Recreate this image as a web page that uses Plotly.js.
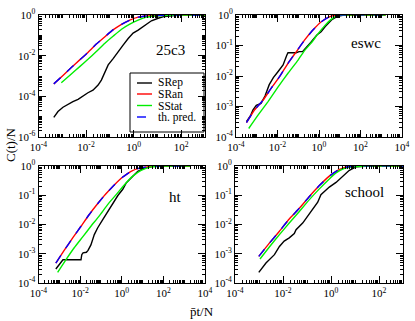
<!DOCTYPE html>
<html>
<head>
<meta charset="utf-8">
<script src="https://cdn.plot.ly/plotly-3.0.1.min.js"></script>
<style>
  html, body { margin: 0; padding: 0; background: #fff; }
  #myDiv { width: 415px; height: 321px; }
</style>
</head>
<body>
<div id="myDiv"></div>
<script>
// 25c3
let rep1X = [4.4e-4, 6.6e-4, 1.07e-3, 1.7e-3, 2.8e-3, 4.6e-3, 7.4e-3, 1.2e-2, 1.95e-2, 3.2e-2, 4.4e-2, 6.2e-2, 8.5e-2, 0.14, 0.22, 0.36, 0.59, 0.95, 1.55, 3.0, 5.6, 10.7, 20, 50, 100, 1000];
let rep1Y = [9.3e-6, 1.8e-5, 2.9e-5, 4.1e-5, 5.5e-5, 7.1e-5, 1.05e-4, 1.5e-4, 2.0e-4, 3.6e-4, 6.3e-4, 1.6e-3, 3.5e-3, 7.4e-3, 1.6e-2, 3.3e-2, 7.0e-2, 0.13, 0.18, 0.32, 0.52, 0.69, 0.85, 0.95, 1, 1];
let ran1X = [4.4e-4, 1.07e-3, 2.4e-3, 5.4e-3, 1.2e-2, 2.7e-2, 6.2e-2, 0.14, 0.31, 0.69, 1.55, 3.5, 7.8, 30, 1000];
let ran1Y = [4.1e-4, 1.07e-3, 2.6e-3, 6.2e-3, 1.45e-2, 3.7e-2, 8.6e-2, 0.19, 0.35, 0.56, 0.78, 0.89, 0.95, 1, 1];
let stat1X = [9.1e-4, 2.4e-3, 5.4e-3, 1.2e-2, 2.7e-2, 6.2e-2, 0.14, 0.31, 0.69, 1.55, 3.5, 7.8, 17, 100, 1000];
let stat1Y = [4.7e-4, 1.26e-3, 2.9e-3, 6.6e-3, 1.6e-2, 4.1e-2, 9.3e-2, 0.2, 0.36, 0.56, 0.78, 0.89, 0.95, 1, 1];
let th1X = [4.4e-4, 1.07e-3, 2.4e-3, 5.4e-3, 1.2e-2, 2.7e-2, 6.2e-2, 0.14, 0.31, 0.69, 1.55, 3.5, 7.8, 30, 1000];
let th1Y = [4.1e-4, 1.07e-3, 2.6e-3, 6.2e-3, 1.45e-2, 3.7e-2, 8.6e-2, 0.19, 0.35, 0.56, 0.78, 0.89, 0.95, 1, 1];

// eswc
let rep2X = [3.2e-4, 5.0e-4, 6.6e-4, 9.5e-4, 1.6e-3, 2.5e-3, 4.0e-3, 6.3e-3, 1.05e-2, 1.86e-2, 2.8e-2, 3.2e-2, 7.9e-2, 0.11, 0.16, 0.2, 0.4, 0.79, 1.26, 2.0, 4.0, 7.9, 16, 1600];
let rep2Y = [3.2e-4, 5.0e-4, 7.8e-4, 1.1e-3, 1.26e-3, 2.2e-3, 5.2e-3, 8.9e-3, 1.38e-2, 2.3e-2, 4.8e-2, 5.8e-2, 5.8e-2, 6.3e-2, 6.3e-2, 7.6e-2, 0.126, 0.22, 0.28, 0.42, 0.69, 0.91, 1, 1];
let ran2X = [3.2e-4, 7.9e-4, 2.0e-3, 5.0e-3, 1.26e-2, 3.2e-2, 8.1e-2, 0.2, 0.51, 1.29, 3.3, 8.3, 1600];
let ran2Y = [2.95e-4, 7.8e-4, 1.6e-3, 4.0e-3, 9.5e-3, 2.6e-2, 6.3e-2, 0.15, 0.32, 0.6, 0.89, 1, 1];
let stat2X = [4.1e-4, 1.15e-3, 3.5e-3, 1.05e-2, 3.2e-2, 9.8e-2, 0.2, 0.43, 0.89, 1.86, 3.9, 8.3, 1600];
let stat2Y = [1.9e-4, 5.2e-4, 1.45e-3, 4.3e-3, 1.23e-2, 3.3e-2, 6.8e-2, 0.123, 0.24, 0.44, 0.72, 0.98, 1];
let th2X = [3.2e-4, 7.9e-4, 2.0e-3, 5.0e-3, 1.26e-2, 3.2e-2, 8.1e-2, 0.2, 0.51, 1.29, 3.3, 8.3, 1600];
let th2Y = [2.95e-4, 7.8e-4, 1.6e-3, 4.0e-3, 9.5e-3, 2.6e-2, 6.3e-2, 0.15, 0.32, 0.6, 0.89, 1, 1];

// ht
let rep3X = [6.8e-4, 1.5e-3, 1.1e-2, 1.2e-2, 1.38e-2, 2.0e-2, 2.4e-2, 3.3e-2, 4.8e-2, 6.9e-2, 0.12, 0.21, 0.37, 0.65, 1.12, 1.62, 3.4, 5.9, 12.3, 37, 2000];
let rep3Y = [3.0e-4, 6.2e-4, 6.2e-4, 9.3e-4, 1.07e-3, 1.12e-3, 1.3e-3, 2.0e-3, 4.5e-3, 7.6e-3, 1.45e-2, 2.8e-2, 5.5e-2, 9.8e-2, 0.16, 0.26, 0.45, 0.66, 0.85, 1, 1];
let ran3X = [6.8e-4, 1.74e-3, 4.4e-3, 1.1e-2, 2.75e-2, 6.9e-2, 0.17, 0.45, 1.12, 2.8, 7.1, 17.8, 50, 2000];
let ran3Y = [4.8e-4, 1.32e-3, 3.5e-3, 8.7e-3, 2.2e-2, 5.1e-2, 0.11, 0.23, 0.42, 0.66, 0.85, 0.93, 1, 1];
let stat3X = [8.3e-4, 2.1e-3, 5.2e-3, 1.3e-2, 3.3e-2, 8.5e-2, 0.21, 0.54, 1.35, 3.4, 8.5, 25.7, 100, 2000];
let stat3Y = [2.3e-4, 6.3e-4, 1.6e-3, 3.7e-3, 8.7e-3, 2.0e-2, 4.8e-2, 0.105, 0.23, 0.45, 0.71, 0.93, 1, 1];
let th3X = [6.8e-4, 1.74e-3, 4.4e-3, 1.1e-2, 2.75e-2, 6.9e-2, 0.17, 0.45, 1.12, 2.8, 7.1, 17.8, 50, 2000];
let th3Y = [4.8e-4, 1.32e-3, 3.5e-3, 8.7e-3, 2.2e-2, 5.1e-2, 0.11, 0.23, 0.42, 0.66, 0.85, 0.93, 1, 1];

// school
let rep4X = [9.8e-4, 1.95e-3, 4.4e-3, 7.1e-3, 1.12e-2, 1.82e-2, 2.95e-2, 3.5e-2, 6.6e-2, 0.107, 0.174, 0.28, 0.38, 0.52, 0.85, 1.62, 3.1, 5.8, 11, 40, 1000];
let rep4Y = [2.3e-4, 4.8e-4, 9.3e-4, 1.78e-3, 2.7e-3, 3.5e-3, 4.9e-3, 6.6e-3, 1.12e-2, 1.9e-2, 3.2e-2, 5.8e-2, 0.105, 0.135, 0.19, 0.275, 0.45, 0.71, 0.93, 1, 1];
let ran4X = [9.8e-4, 2.7e-3, 7.1e-3, 1.82e-2, 4.8e-2, 0.126, 0.32, 0.85, 1.62, 3.1, 7.9, 1000];
let ran4Y = [8.1e-4, 2.3e-3, 5.9e-3, 1.55e-2, 3.6e-2, 9.1e-2, 0.21, 0.45, 0.66, 0.85, 1.0, 1];
let stat4X = [1.1e-3, 2.7e-3, 7.1e-3, 1.82e-2, 4.8e-2, 0.126, 0.32, 0.85, 1.62, 3.1, 7.9, 30, 1000];
let stat4Y = [6.6e-4, 1.7e-3, 4.5e-3, 1.12e-2, 2.8e-2, 7.1e-2, 0.162, 0.36, 0.58, 0.79, 0.93, 1, 1];
let th4X = [9.8e-4, 2.7e-3, 7.1e-3, 1.82e-2, 4.8e-2, 0.126, 0.32, 0.85, 1.62, 3.1, 7.9, 1000];
let th4Y = [8.1e-4, 2.3e-3, 5.9e-3, 1.55e-2, 3.6e-2, 9.1e-2, 0.21, 0.45, 0.66, 0.85, 1.0, 1];

let nombres = ["SRep", "SRan", "SStat", "th. pred."];
let colores = ["#000000", "#ff0000", "#00ee00", "#0000ff"];
let panelNames = ["25c3", "eswc", "ht", "school"];

// tick exponents per axis
let expX13 = [-4, -2, 0, 2];
let expX24 = [-4, -2, 0, 2, 4];
let expY1 = [-6, -4, -2, 0];
let expYotros = [-4, -3, -2, -1, 0];

let serif = "Liberation Serif, Times New Roman, serif";

let panels = [
    [rep1X, rep1Y, ran1X, ran1Y, stat1X, stat1Y, th1X, th1Y],
    [rep2X, rep2Y, ran2X, ran2Y, stat2X, stat2Y, th2X, th2Y],
    [rep3X, rep3Y, ran3X, ran3Y, stat3X, stat3Y, th3X, th3Y],
    [rep4X, rep4Y, ran4X, ran4Y, stat4X, stat4Y, th4X, th4Y]
];

var data = [];
panels.forEach((p, i) => {
    let sfx = i === 0 ? "" : String(i + 1);
    for (let k = 0; k < 4; k++) {
        data.push({
            x: p[2 * k],
            y: p[2 * k + 1],
            type: 'scatter',
            mode: 'lines',
            name: nombres[k],
            xaxis: 'x' + sfx,
            yaxis: 'y' + sfx,
            line: {
                color: colores[k],
                width: 1.4,
                dash: k === 3 ? 'dash' : 'solid',
                shape: k === 0 ? 'linear' : 'spline',
                smoothing: 0.4
            },
            showlegend: false
        });
    }
});

function eje(rango, dom, anchor, exps) {
    return {
        type: 'log',
        range: rango,
        domain: dom,
        anchor: anchor,
        tickmode: 'array',
        tickvals: exps.map(e => Math.pow(10, e)),
        ticktext: exps.map(e => '10<sup>' + e + '</sup>'),
        showgrid: false,
        zeroline: false,
        showline: true,
        linecolor: '#000',
        linewidth: 1,
        mirror: 'allticks',
        ticks: 'inside',
        ticklen: 7,
        tickwidth: 1,
        tickcolor: '#000',
        minor: { tickmode: 'linear', dtick: 'D1', ticks: 'inside', ticklen: 3, tickwidth: 1, tickcolor: '#000', showgrid: false },
        tickfont: { family: serif, size: 11, color: '#000' }
    };
}

// panel areas in pixels
let W = 415, H = 321, mL = 38, mR = 12, mT = 15, mB = 38;
let pw = W - mL - mR, ph = H - mT - mB;
function px2x(v) { return (v - mL) / pw; }
function py2y(v) { return (H - mB - v) / ph; }

var layout = {
    width: W,
    height: H,
    margin: { l: mL, r: mR, t: mT, b: mB },
    paper_bgcolor: '#fff',
    plot_bgcolor: '#fff',
    showlegend: false,
    font: { family: serif, color: '#000' },
    xaxis: eje([-4, 3], [px2x(38.5), px2x(205)], 'y', expX13),
    yaxis: eje([-6, 0], [py2y(137), 1], 'x', expY1),
    xaxis2: eje([-4, 4], [px2x(236), px2x(402)], 'y2', expX24),
    yaxis2: eje([-4, 0], [py2y(137), 1], 'x2', expYotros),
    xaxis3: eje([-4, 4], [px2x(38.5), px2x(205)], 'y3', expX24),
    yaxis3: eje([-4, 0], [0, py2y(166)], 'x3', expYotros),
    xaxis4: eje([-4, 3], [px2x(235), 1], 'y4', expX13),
    yaxis4: eje([-4, 0], [0, py2y(166)], 'x4', expYotros),
    shapes: [],
    annotations: []
};

// panel names
let namePos = [[170, 50], [366, 43], [175, 197], [364, 192]];
panelNames.forEach((n, i) => {
    layout.annotations.push({
        text: n, xref: 'paper', yref: 'paper',
        x: px2x(namePos[i][0]), y: py2y(namePos[i][1]),
        xanchor: 'center', yanchor: 'middle', showarrow: false,
        font: { family: serif, size: 15, color: '#000' }
    });
});

// axis titles
layout.annotations.push({
    text: 'C(t)/N', xref: 'paper', yref: 'paper',
    x: px2x(10), y: py2y(145), textangle: -90,
    xanchor: 'center', yanchor: 'middle', showarrow: false,
    font: { family: serif, size: 13, color: '#000' }
});
layout.annotations.push({
    text: 'p\u0304t/N', xref: 'paper', yref: 'paper',
    x: px2x(202), y: py2y(311),
    xanchor: 'center', yanchor: 'middle', showarrow: false,
    font: { family: serif, size: 13, color: '#000' }
});

// legend box in panel 1
layout.shapes.push({
    type: 'rect', xref: 'paper', yref: 'paper',
    x0: px2x(130), x1: px2x(204), y0: py2y(132), y1: py2y(73),
    line: { color: '#000', width: 1 }, fillcolor: '#fff', layer: 'below'
});
let legY = [83, 94, 105.5, 117];
nombres.forEach((n, k) => {
    layout.shapes.push({
        type: 'line', xref: 'paper', yref: 'paper',
        x0: px2x(137), x1: px2x(152), y0: py2y(legY[k]), y1: py2y(legY[k]),
        line: { color: colores[k], width: 1.4, dash: k === 3 ? 'dash' : 'solid' }
    });
    layout.annotations.push({
        text: n, xref: 'paper', yref: 'paper',
        x: px2x(156), y: py2y(legY[k]),
        xanchor: 'left', yanchor: 'middle', showarrow: false,
        font: { family: serif, size: 11.5, color: '#000' }
    });
});

Plotly.newPlot('myDiv', data, layout, { staticPlot: true });
</script>
</body>
</html>
